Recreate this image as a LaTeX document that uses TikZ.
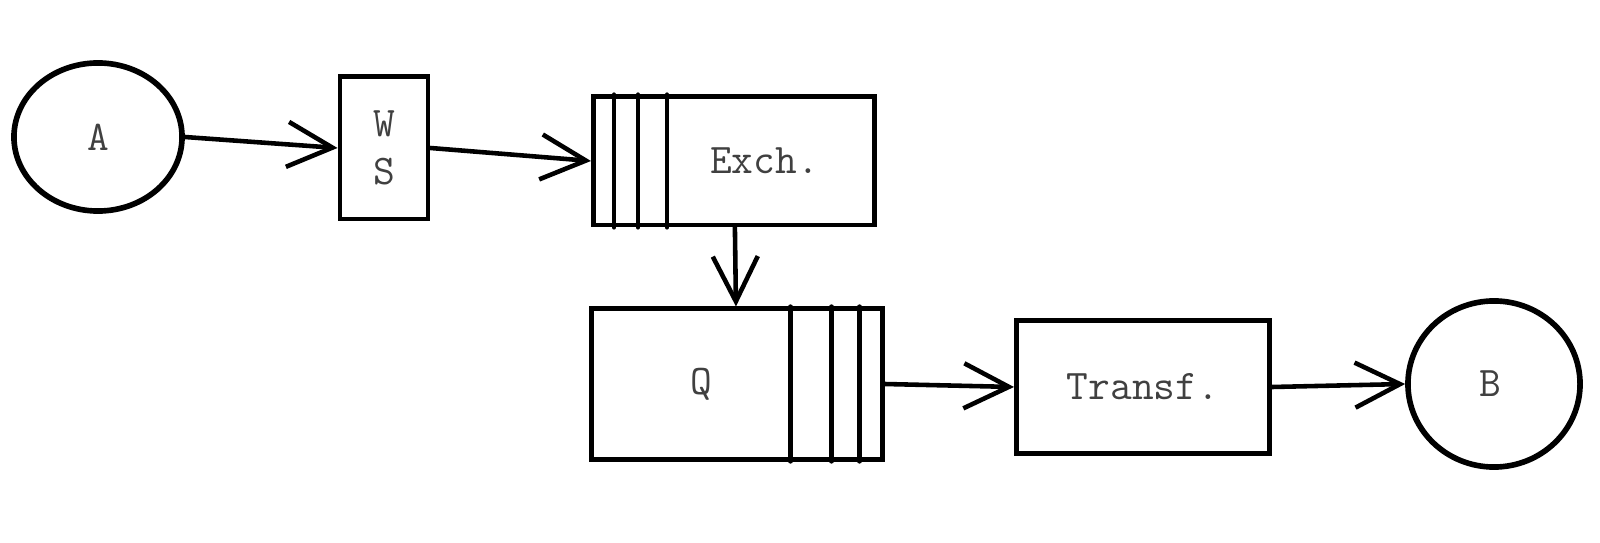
\documentclass[tikz,border=0pt]{standalone}
\usetikzlibrary{shapes.geometric,arrows.meta}

\begin{document}
\begin{tikzpicture}[x=0.01cm, y=-0.01cm,
    every node/.style={font=\ttfamily\fontsize{12}{13.5}\selectfont, text=black!75},
    endpt/.style={ellipse, draw=black, line width=1.6pt, inner sep=0pt},
    stage/.style={rectangle, draw=black, line width=1.4pt, inner sep=0pt, align=center},
    link/.style={-{Straight Barb[length=4.5mm, width=4.5mm]}, line width=1.3pt, line cap=round},
    bar/.style={line width=1.2pt, line cap=round}]
    \useasboundingbox (0, 0) rectangle (1600, 543);
    \node[endpt, minimum width=1.68cm, minimum height=1.48cm] (A) at (98, 137) {A};
    \node[stage, minimum width=0.88cm, minimum height=1.42cm] (ws) at (384, 148) {W\\S};
    \node[stage, minimum width=2.81cm, minimum height=1.28cm] (exch) at (734, 161) {\hspace*{0.61cm}Exch.};
    \node[stage, minimum width=2.90cm, minimum height=1.50cm] (q) at (737, 384) {Q\hspace*{0.72cm}};
    \node[stage, minimum width=2.53cm, minimum height=1.33cm] (transf) at (1143, 387) {Transf.};
    \node[endpt, minimum width=1.72cm, minimum height=1.66cm] (B) at (1494, 384) {B\hspace*{0.08cm}};
    \draw[bar] ([xshift=0.23cm]exch.north west) -- ([xshift=0.23cm]exch.south west);
    \draw[bar] ([xshift=0.47cm]exch.north west) -- ([xshift=0.47cm]exch.south west);
    \draw[bar] ([xshift=0.76cm]exch.north west) -- ([xshift=0.76cm]exch.south west);
    \draw[bar] ([xshift=-0.94cm]q.north east) -- ([xshift=-0.94cm]q.south east);
    \draw[bar] ([xshift=-0.53cm]q.north east) -- ([xshift=-0.53cm]q.south east);
    \draw[bar] ([xshift=-0.25cm]q.north east) -- ([xshift=-0.25cm]q.south east);
    \draw[link] (A.east) to (ws.west);
    \draw[link] (ws.east) to (exch.west);
    \draw[link] (exch) to (q);
    \draw[link] (q.east) to (transf.west);
    \draw[link] (transf.east) to (B.west);
\end{tikzpicture}
\end{document}
